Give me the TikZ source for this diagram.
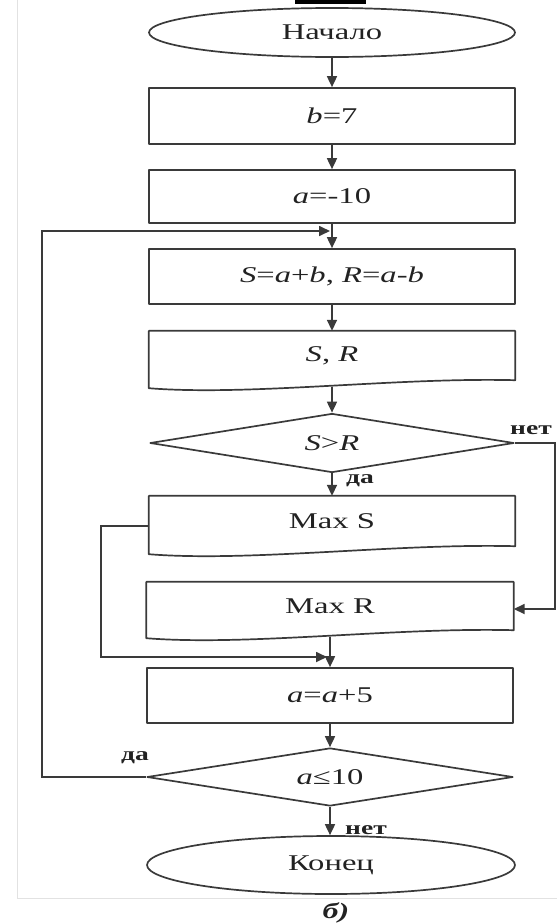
\documentclass[tikz,border=0pt]{standalone}
\usepackage{fontspec}
\setmainfont[FakeStretch=1.45]{Liberation Serif}
\usetikzlibrary{shapes.geometric,arrows.meta,calc}
\definecolor{lc}{HTML}{3A3A3A}
\definecolor{fr}{HTML}{E2E2E2}
\definecolor{tc}{HTML}{222222}
\newcommand{\mainfnt}{\fontsize{22.5}{24}\selectfont}
\newcommand{\lblfnt}{\fontsize{19}{21}\selectfont\bfseries}
\newcommand{\capfnt}{\fontsize{22}{24}\selectfont\bfseries\itshape}
\tikzset{
  shp/.style={draw=lc, line width=1.7pt, line join=round},
  term/.style={ellipse, shp, minimum width=366pt, minimum height=49pt, inner sep=0pt, font=\mainfnt, text=tc},
  proc/.style={rectangle, shp, minimum width=366pt, inner sep=0pt, font=\mainfnt, text=tc},
  docbox/.style={rectangle, minimum width=366pt, inner sep=0pt, font=\mainfnt, text=tc},
  dec/.style={diamond, shp, shape aspect=6, inner sep=0pt, font=\mainfnt, text=tc},
  arr/.style={draw=lc, line width=1.7pt, -{Triangle[length=11pt,width=10pt]}},
  lbl/.style={font=\lblfnt, text=tc, inner sep=0pt},
}
\begin{document}
\begin{tikzpicture}[x=1pt,y=-1pt]
\useasboundingbox (0,0) rectangle (557,924);
% faint frame
\draw[fr, line width=1pt] (17,0) -- (17,898) -- (557,898);
% cut-off mark at top
\fill[black] (295,0) rectangle (366,3.5);

% nodes
\node[term] (start) at (332,32.5) {Начало};
\node[proc, minimum height=56pt] (b7) at (332,116) {\textit{b}=7};
\node[proc, minimum height=53pt] (a10) at (332,196.5) {\textit{a}=-10};
\node[proc, minimum height=55pt] (calc) at (332,276.5) {\textit{S}=\textit{a}+\textit{b}, \textit{R}=\textit{a}-\textit{b}};
\node[docbox, minimum height=49pt] (out) at (332,355.5) {\textit{S}, \textit{R}};
\node[dec, minimum width=364pt, minimum height=59pt] (d1) at (332,443) {\textit{S}>\textit{R}};
\node[docbox, minimum height=50pt] (maxs) at (332,521) {Max S};
\node[docbox, minimum width=367pt, minimum height=48pt] (maxr) at (330,606) {Max R};
\node[proc, minimum height=55pt] (a5) at (330,695.5) {\textit{a}=\textit{a}+5};
\node[dec, minimum width=366pt, minimum height=58pt] (d2) at (330,777) {\textit{a}≤10};
\node[term, minimum width=368pt, minimum height=58pt] (end) at (331,865) {Конец};
\node[font=\capfnt, text=tc, inner sep=0pt] (cap) at (336,913) {б)};

% document shapes (wavy bottom)
\foreach \n in {out,maxs,maxr}{
  \draw[shp] (\n.south east) -- (\n.north east) -- (\n.north west) -- (\n.south west)
    -- ($(\n.south west)+(0,8)$)
    .. controls ($(\n.south west)+(101,16)$) and ($(\n.south east)+(-120,-3)$) .. (\n.south east) -- cycle;
}

% helper coordinates
\coordinate (j1) at (330,231);
\coordinate (l1) at (42,777);
\coordinate (l2) at (42,231);
\coordinate (outw) at ($(out.south)+(0,7)$);
\coordinate (maxrw) at ($(maxr.south)+(0,7)$);
\coordinate (msw) at ($(maxs.west)+(0,5)$);
\coordinate (m1) at (101,526);
\coordinate (m2) at (101,657);
\coordinate (j2) at (327,657);
\coordinate (r1) at (555,443);
\coordinate (r2) at (555,609);
\coordinate (mre) at ($(maxr.east)+(0,3)$);

% connectors
\draw[arr] (start.south) -- (b7.north);
\draw[arr] (b7.south) -- (a10.north);
\draw[arr] (a10.south) -- (calc.north);
\draw[arr] (calc.south) -- (out.north);
\draw[arr] (outw) -- (d1.north);
\draw[arr] (d1.south) -- (maxs.north);
\draw[arr] (maxrw) -- (a5.north);
\draw[arr] (a5.south) -- (d2.north);
\draw[arr] (d2.south) -- (d2.south |- end.north);
\draw[arr] (d2.west) -- (l1) -- (l2) -- (j1);
\draw[arr] (msw) -- (m1) -- (m2) -- (j2);
\draw[arr] (d1.east) -- (r1) -- (r2) -- (mre);

% labels
\node[lbl] (no1) at (531,430) {нет};
\node[lbl] (yes1) at (360,481) {да};
\node[lbl] (yes2) at (135,758) {да};
\node[lbl] (no2) at (366,830) {нет};
\end{tikzpicture}
\end{document}
